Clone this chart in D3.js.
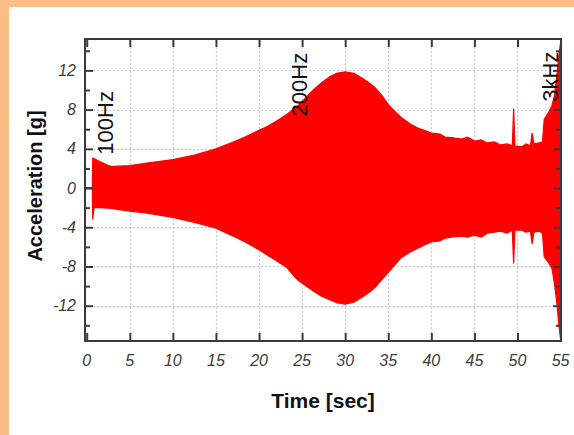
<!DOCTYPE html>
<html><head><meta charset="utf-8">
<script src="https://cdn.jsdelivr.net/npm/d3@7"></script>
<style>
html,body{margin:0;padding:0;background:#fdbd85;}
svg{display:block;}
</style></head>
<body>
<svg id="c" width="574" height="435"></svg>
<script>
// ---- data ----
const timeSec = [0,0.65,0.7,0.85,1.5,2.5,3.0,5.0,7.0,10.0,12.5,15.0,17.0,18.5,20.0,21.0,22.0,23.2,24.4,25.3,26.3,27.2,28.2,29.0,30.0,31.0,32.0,33.0,33.5,34.3,35.0,35.8,36.5,37.6,38.5,39.2,40.0,41.0,41.6,42.3,43.5,44.2,45.0,45.8,46.5,47.3,48.0,48.8,49.4,49.55,49.7,50.5,51.0,51.5,51.7,51.9,52.5,52.9,53.1,53.6,54.0,54.3,54.6,54.8,55.0];
const upperG = [0,0,3.05,3.0,2.7,2.3,2.2,2.3,2.55,2.9,3.35,4.0,4.7,5.25,5.9,6.3,6.8,7.5,8.3,9.1,10.0,10.7,11.35,11.7,11.85,11.7,11.2,10.6,10.2,9.4,8.5,7.8,7.2,6.5,6.1,5.9,5.6,5.5,5.2,5.15,5.0,5.2,4.8,4.9,4.6,4.7,4.4,4.5,4.3,8.1,4.3,4.2,4.5,4.3,5.6,4.5,4.6,4.7,7.0,7.7,8.4,9.5,11.7,13.5,14.8];
const lowerG = [0,0,-3.2,-2.0,-2.0,-2.05,-2.1,-2.35,-2.55,-3.0,-3.5,-4.1,-4.9,-5.55,-6.3,-6.85,-7.4,-8.1,-9.3,-9.9,-10.5,-11.0,-11.4,-11.7,-11.85,-11.65,-11.1,-10.5,-10.1,-9.3,-8.6,-7.8,-7.1,-6.5,-6.1,-5.8,-5.5,-5.4,-5.1,-5.0,-4.9,-5.0,-4.8,-5.0,-4.6,-4.5,-4.4,-4.6,-4.3,-7.7,-4.3,-4.3,-4.5,-4.4,-5.7,-4.5,-4.4,-4.6,-7.0,-7.6,-8.2,-9.8,-12.0,-14.0,-15.4];
const xTicks = [0,5,10,15,20,25,30,35,40,45,50,55];
const yTicks = [-12,-8,-4,0,4,8,12];
const yMinorTicks = [-14,-10,-6,-2,2,6,10,14];
const annoLabels = ["100Hz","200Hz","3kHz"];
const annoTime = [3.1,25.6,54.7];
const annoG = [3.4,7.3,8.8];
const xTitle = "Time [sec]";
const yTitle = "Acceleration [g]";

// ---- layout ----
const svg = d3.select("#c");
svg.append("rect").attr("x",9).attr("y",7).attr("width",565).attr("height",428).attr("fill","#ffffff");

const L=85, R=561, T=39, B=341;
const x = d3.scaleLinear().domain([-0.2,55.05]).range([L,R]);
const y = d3.scaleLinear().domain([-15.6,15.2]).range([B,T]);

// grid
const grid = svg.append("g").attr("stroke","#c4c4ee").attr("stroke-width",1).attr("stroke-dasharray","2,2");
grid.selectAll("line.gy").data(yTicks).join("line").attr("class","gy")
  .attr("x1",L).attr("x2",R).attr("y1",d=>Math.round(y(d))+0.5).attr("y2",d=>Math.round(y(d))+0.5);
grid.selectAll("line.gx").data(xTicks.filter(d=>d>0&&d<55)).join("line").attr("class","gx")
  .attr("y1",T).attr("y2",B).attr("x1",d=>Math.round(x(d))+0.5).attr("x2",d=>Math.round(x(d))+0.5);

// clip
svg.append("clipPath").attr("id","clip").append("rect").attr("x",L).attr("y",T).attr("width",R-L).attr("height",B-T);

const pts = timeSec.map((t,i)=>({t, u:upperG[i], l:lowerG[i]}));
const area = d3.area().x(d=>x(d.t)).y0(d=>y(d.l)).y1(d=>y(d.u));
const gSig = svg.append("g").attr("clip-path","url(#clip)");
gSig.append("path").datum(pts).attr("d",area).attr("fill","#ff0000").attr("stroke","#ff0000").attr("stroke-width",1.2);
gSig.append("line").attr("x1",L).attr("x2",x(0.8)).attr("y1",y(0)).attr("y2",y(0)).attr("stroke","#ff0000").attr("stroke-width",2);

// axes (ticks inward)
const frameColor="#3a3a3a";
const axL = svg.append("g").attr("transform",`translate(${L},0)`)
  .call(d3.axisRight(y).tickValues(yTicks).tickSize(8).tickFormat(""));
const axLm = svg.append("g").attr("transform",`translate(${L},0)`)
  .call(d3.axisRight(y).tickValues(yMinorTicks).tickSize(5).tickFormat(""));
const axR = svg.append("g").attr("transform",`translate(${R},0)`)
  .call(d3.axisLeft(y).tickValues(yTicks).tickSize(8).tickFormat(""));
const axRm = svg.append("g").attr("transform",`translate(${R},0)`)
  .call(d3.axisLeft(y).tickValues(yMinorTicks).tickSize(5).tickFormat(""));
const axB = svg.append("g").attr("transform",`translate(0,${B})`)
  .call(d3.axisTop(x).tickValues(xTicks).tickSize(8).tickFormat(""));
const axT = svg.append("g").attr("transform",`translate(0,${T})`)
  .call(d3.axisBottom(x).tickValues(xTicks).tickSize(8).tickFormat(""));
[axL,axLm,axR,axRm,axB,axT].forEach(a=>{
  a.select(".domain").remove();
  a.selectAll(".tick line").attr("stroke",frameColor).attr("stroke-width",2);
});

// tick labels
svg.append("g").selectAll("text").data(yTicks).join("text")
  .attr("x",L-9).attr("y",d=>y(d)).attr("dy","0.35em").attr("text-anchor","end")
  .attr("font-family","Liberation Sans, Arial, sans-serif").attr("font-style","italic")
  .attr("font-size",16).attr("fill","#3c3c3c").text(d=>d);
svg.append("g").selectAll("text").data(xTicks).join("text")
  .attr("x",d=>x(d)).attr("y",B+25).attr("text-anchor","middle")
  .attr("font-family","Liberation Sans, Arial, sans-serif").attr("font-style","italic")
  .attr("font-size",16).attr("fill","#3c3c3c").text(d=>d);

// frame
svg.append("rect").attr("x",L).attr("y",T).attr("width",R-L).attr("height",B-T)
  .attr("fill","none").attr("stroke",frameColor).attr("stroke-width",2);

// titles
svg.append("text").attr("x",(L+R)/2).attr("y",408).attr("text-anchor","middle")
  .attr("font-family","Liberation Sans, Arial, sans-serif").attr("font-weight","bold")
  .attr("font-size",21).attr("fill","#111").text(xTitle);
svg.append("text").attr("transform",`translate(42,${(T+B)/2-4}) rotate(-90)`).attr("text-anchor","middle")
  .attr("font-family","Liberation Sans, Arial, sans-serif").attr("font-weight","bold")
  .attr("font-size",20).attr("fill","#111").text(yTitle);

// annotations
svg.append("g").selectAll("text").data(annoLabels).join("text")
  .attr("transform",(d,i)=>`translate(${x(annoTime[i])},${y(annoG[i])}) rotate(-90)`)
  .attr("font-family","Liberation Sans, Arial, sans-serif")
  .attr("font-size",22).attr("fill","#111").text(d=>d);
</script>
</body></html>
